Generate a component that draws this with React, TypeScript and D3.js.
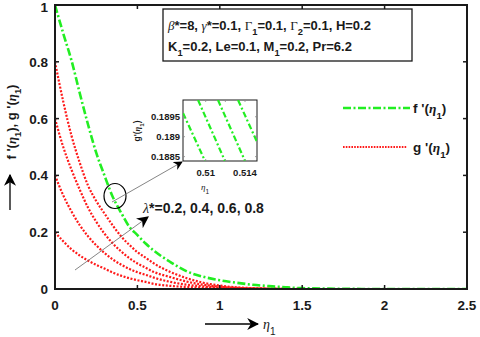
import React from "react";
import * as d3 from "d3";

// values
const eta = [0, 0.05, 0.1, 0.15, 0.2, 0.25, 0.3, 0.35, 0.4, 0.45, 0.5, 0.55, 0.6, 0.7, 0.8, 0.9, 1.0, 1.1, 1.2, 1.3, 1.4, 1.5, 1.7, 2.0, 2.5];
const fPrime = [1, 0.9, 0.805, 0.69, 0.58, 0.48, 0.4, 0.325, 0.27, 0.22, 0.19, 0.16, 0.135, 0.095, 0.062, 0.043, 0.031, 0.022, 0.015, 0.01, 0.006, 0.003, 0.001, 0, 0];

const lambdas = [0.2, 0.4, 0.6, 0.8];
const gPrime = [
  [0.2, 0.168, 0.14, 0.118, 0.1, 0.085, 0.072, 0.058, 0.047, 0.038, 0.031, 0.025, 0.018, 0.011, 0.007, 0.004, 0.002, 0.001, 0.0005, 0, 0, 0, 0, 0, 0],
  [0.4, 0.33, 0.273, 0.225, 0.186, 0.154, 0.127, 0.104, 0.086, 0.071, 0.059, 0.05, 0.04, 0.025, 0.015, 0.009, 0.005, 0.003, 0.0015, 0.0008, 0, 0, 0, 0, 0],
  [0.6, 0.5, 0.42, 0.35, 0.287, 0.237, 0.195, 0.161, 0.133, 0.109, 0.09, 0.075, 0.06, 0.042, 0.026, 0.015, 0.008, 0.004, 0.002, 0.001, 0, 0, 0, 0, 0],
  [0.8, 0.66, 0.54, 0.445, 0.365, 0.31, 0.266, 0.224, 0.186, 0.156, 0.13, 0.11, 0.09, 0.06, 0.038, 0.022, 0.012, 0.006, 0.003, 0.0015, 0.001, 0, 0, 0, 0],
];

const xTicks = [0, 0.5, 1, 1.5, 2, 2.5];
const yTicks = [0, 0.2, 0.4, 0.6, 0.8, 1];

// inset (zoomed f' lines)
const insetLines = [
  [[0.5077, 0.18959], [0.50993, 0.18839]],
  [[0.50922, 0.18992], [0.51196, 0.18839]],
  [[0.51125, 0.18992], [0.514, 0.18839]],
  [[0.51329, 0.18992], [0.51522, 0.18887]],
];
const insetXTicks = [0.51, 0.512, 0.514];
const insetXLabels = ["0.51", "", "0.514"];
const insetYTicks = [0.1885, 0.189, 0.1895];
const insetYLabels = ["0.1885", "0.189", "0.1895"];

const W = 480;
const H = 337;
const plot = { left: 55, right: 467, top: 5, bottom: 289 };
const inset = { left: 183, right: 257, top: 100, bottom: 161 };

const GREEN = "#22ee22";
const RED = "#ff1a1a";
const INK = "#1a1a1a";
const FONT = "'Liberation Sans', Arial, sans-serif";
const SERIF = "'Liberation Serif', 'Times New Roman', serif";

const Sub = ({ children }: { children: React.ReactNode }) => (
  <tspan baselineShift="sub" fontSize="0.72em">{children}</tspan>
);

export default function App() {
  const x = d3.scaleLinear().domain([0, 2.5]).range([plot.left, plot.right]);
  const y = d3.scaleLinear().domain([0, 1]).range([plot.bottom, plot.top]);

  const line = d3
    .line<number>()
    .x((_, i) => x(eta[i]))
    .y((d) => y(d))
    .curve(d3.curveMonotoneX);

  const ix = d3.scaleLinear().domain([0.50769, 0.51522]).range([inset.left, inset.right]);
  const iy = d3.scaleLinear().domain([0.18839, 0.18992]).range([inset.bottom, inset.top]);
  const iline = d3
    .line<number[]>()
    .x((d) => ix(d[0]))
    .y((d) => iy(d[1]));

  return (
    <svg width={W} height={H} style={{ position: "absolute", left: 0, top: 0, background: "#fff" }} fontFamily={FONT}>
      <defs>
        <clipPath id="plotClip">
          <rect x={plot.left} y={plot.top - 2} width={plot.right - plot.left} height={plot.bottom - plot.top + 2} />
        </clipPath>
        <clipPath id="insetClip">
          <rect x={inset.left} y={inset.top} width={inset.right - inset.left} height={inset.bottom - inset.top} />
        </clipPath>
        <marker id="arrowHead" viewBox="0 0 10 10" refX="9" refY="5" markerWidth="9" markerHeight="9" orient="auto" markerUnits="userSpaceOnUse">
          <path d="M0,0 L10,5 L0,10 L3,5 Z" fill="#000" />
        </marker>
        <marker id="arrowBig" viewBox="0 0 10 10" refX="9" refY="5" markerWidth="12" markerHeight="12" orient="auto" markerUnits="userSpaceOnUse">
          <path d="M0,0 L10,5 L0,10 L3,5 Z" fill="#000" />
        </marker>
      </defs>

      {/* curves */}
      <g clipPath="url(#plotClip)">
        {gPrime.map((g, k) => (
          <path key={k} d={line(g) || ""} fill="none" stroke={RED} strokeWidth={2.2} strokeDasharray="2,1.6" />
        ))}
        <path d={line(fPrime) || ""} fill="none" stroke={GREEN} strokeWidth={2.6} strokeDasharray="8,2.5,2,2.5" />
      </g>

      {/* axes box */}
      <rect x={plot.left} y={plot.top} width={plot.right - plot.left} height={plot.bottom - plot.top} fill="none" stroke={INK} strokeWidth={2} />
      {xTicks.map((t) => (
        <g key={"xt" + t}>
          <line x1={x(t)} x2={x(t)} y1={plot.bottom} y2={plot.bottom - 4} stroke={INK} strokeWidth={1.5} />
          <line x1={x(t)} x2={x(t)} y1={plot.top} y2={plot.top + 4} stroke={INK} strokeWidth={1.5} />
          <text x={x(t)} y={plot.bottom + 21} textAnchor="middle" fontSize={13.5} fontWeight="bold" fill={INK}>{t}</text>
        </g>
      ))}
      {yTicks.map((t) => (
        <g key={"yt" + t}>
          <line x1={plot.left} x2={plot.left + 4} y1={y(t)} y2={y(t)} stroke={INK} strokeWidth={1.5} />
          <line x1={plot.right} x2={plot.right - 4} y1={y(t)} y2={y(t)} stroke={INK} strokeWidth={1.5} />
          <text x={plot.left - 7} y={Math.max(y(t) + 5, 12)} textAnchor="end" fontSize={13.5} fontWeight="bold" fill={INK}>{t}</text>
        </g>
      ))}

      {/* y label */}
      <text transform="translate(16,122) rotate(-90)" textAnchor="middle" fontSize={13} fontWeight="bold" fill={INK}>
        f '(<tspan fontFamily={SERIF} fontStyle="italic">η</tspan><Sub>1</Sub>), g '(<tspan fontFamily={SERIF} fontStyle="italic">η</tspan><Sub>1</Sub>)
      </text>
      <line x1={10} x2={10} y1={210} y2={175} stroke="#000" strokeWidth={1.3} markerEnd="url(#arrowBig)" />

      {/* x label */}
      <line x1={205} x2={258} y1={324} y2={324} stroke="#000" strokeWidth={1.3} markerEnd="url(#arrowBig)" />
      <text x={263} y={329} fontSize={14} fill={INK}>
        <tspan fontFamily={SERIF} fontStyle="italic">η</tspan><Sub>1</Sub>
      </text>

      {/* parameter box */}
      <rect x={163} y={9} width={249} height={52} fill="#fff" stroke={INK} strokeWidth={1.3} />
      <text x={168} y={30} fontSize={13} fontWeight="bold" fill={INK}>
        <tspan fontFamily={SERIF} fontStyle="italic" fontWeight="normal">β</tspan>*=8, <tspan fontFamily={SERIF} fontStyle="italic" fontWeight="normal">γ</tspan>*=0.1, <tspan fontFamily={SERIF} fontWeight="normal">Γ</tspan><Sub>1</Sub>=0.1, <tspan fontFamily={SERIF} fontWeight="normal">Γ</tspan><Sub>2</Sub>=0.1, H=0.2
      </text>
      <text x={168} y={51} fontSize={13} fontWeight="bold" fill={INK}>
        K<Sub>1</Sub>=0.2, Le=0.1, M<Sub>1</Sub>=0.2, Pr=6.2
      </text>

      {/* legend */}
      <line x1={343} x2={410} y1={108} y2={108} stroke={GREEN} strokeWidth={2.6} strokeDasharray="8,2.5,2,2.5" />
      <text x={413} y={113} fontSize={13.5} fontWeight="bold" fill={INK}>
        f '(<tspan fontFamily={SERIF} fontStyle="italic">η</tspan><Sub>1</Sub>)
      </text>
      <line x1={343} x2={407} y1={147} y2={147} stroke={RED} strokeWidth={2} strokeDasharray="1.6,1.2" />
      <text x={413} y={152} fontSize={13.5} fontWeight="bold" fill={INK}>
        g '(<tspan fontFamily={SERIF} fontStyle="italic">η</tspan><Sub>1</Sub>)
      </text>

      {/* circle and pointer to inset */}
      <ellipse cx={115} cy={196} rx={11} ry={12.5} fill="none" stroke="#000" strokeWidth={1.2} />
      <line x1={112} y1={202} x2={182} y2={162} stroke="#666" strokeWidth={0.8} markerEnd="url(#arrowHead)" />

      {/* lambda arrow */}
      <line x1={75} y1={270} x2={148} y2={217} stroke="#666" strokeWidth={0.8} markerEnd="url(#arrowBig)" />
      <text x={143} y={213} fontSize={14} fontWeight="bold" fill={INK}>
        <tspan fontFamily={SERIF} fontStyle="italic" fontWeight="normal">λ</tspan>*=0.2, 0.4, 0.6, 0.8
      </text>

      {/* inset */}
      <rect x={inset.left} y={inset.top} width={inset.right - inset.left} height={inset.bottom - inset.top} fill="#fff" stroke={INK} strokeWidth={1} />
      <g clipPath="url(#insetClip)">
        {insetLines.map((l, k) => (
          <path key={k} d={iline(l) || ""} fill="none" stroke={GREEN} strokeWidth={2.2} strokeDasharray="6,2.5,2,2.5" />
        ))}
      </g>
      {insetXTicks.map((t, i) => (
        <g key={"ixt" + t}>
          <line x1={ix(t)} x2={ix(t)} y1={inset.bottom} y2={inset.bottom - 2} stroke="#888" strokeWidth={0.8} />
          <line x1={ix(t)} x2={ix(t)} y1={inset.top} y2={inset.top + 2} stroke="#888" strokeWidth={0.8} />
          <text x={ix(t)} y={176} textAnchor="middle" fontSize={9.5} fontWeight="bold" fill={INK}>{insetXLabels[i]}</text>
        </g>
      ))}
      {insetYTicks.map((t, i) => (
        <g key={"iyt" + t}>
          <line x1={inset.left} x2={inset.left + 2} y1={iy(t)} y2={iy(t)} stroke="#888" strokeWidth={0.8} />
          <line x1={inset.right} x2={inset.right - 2} y1={iy(t)} y2={iy(t)} stroke="#888" strokeWidth={0.8} />
          <text x={inset.left - 3} y={iy(t) + 3.5} textAnchor="end" fontSize={9.5} fontWeight="bold" fill={INK}>{insetYLabels[i]}</text>
        </g>
      ))}
      <text x={205} y={190} textAnchor="middle" fontSize={9} fill={INK}>
        <tspan fontFamily={SERIF} fontStyle="italic">η</tspan><Sub>1</Sub>
      </text>
      <text transform="translate(140,131) rotate(-90)" textAnchor="middle" fontSize={8.5} fontWeight="bold" fill={INK}>
        g'(<tspan fontFamily={SERIF} fontStyle="italic">η</tspan><Sub>1</Sub>)
      </text>
    </svg>
  );
}
